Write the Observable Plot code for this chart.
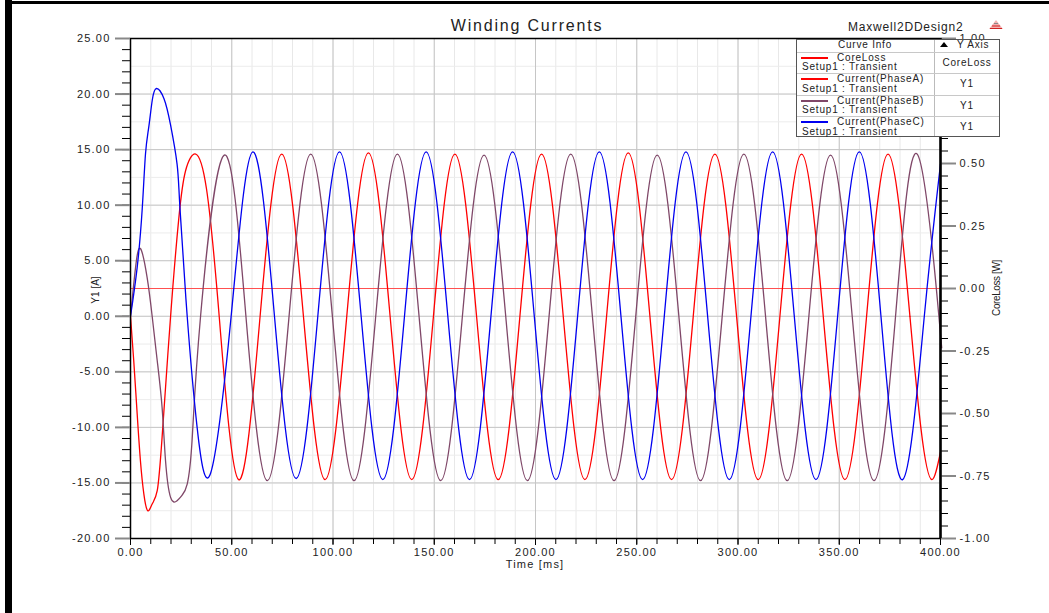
<!DOCTYPE html>
<html><head><meta charset="utf-8">
<script src="https://cdn.jsdelivr.net/npm/d3@7"></script>
<script src="https://cdn.jsdelivr.net/npm/@observablehq/plot@0.6"></script>
<style>
html,body{margin:0;padding:0;background:#fff;}
#wrap{position:relative;width:1049px;height:613px;overflow:hidden;font-family:"Liberation Sans",Arial,sans-serif;color:#222;}
#wrap svg{position:absolute;left:0;top:0;}
.t{position:absolute;white-space:nowrap;line-height:10px;height:10px;}
</style></head><body><div id="wrap"></div>
<script>
// ---- data ----
const timeA  = [0,1.6,3.3,4.9,6.6,8.5,10.7,13.2,15.6,19.8,23.9,27.2,32.2,37.5,43.8,53.4,64.0,74.7,85.4,96.1,106.8,117.5,128.2,138.9,149.6,160.2,170.9,181.6,192.3,203.0,213.7,224.4,235.1,245.8,256.5,267.2,277.9,288.6,299.3,310.0,320.7,331.4,342.1,352.8,363.5,374.1,384.9,395.8,400];
const phaseA = [0,-4.0,-8.8,-13.0,-16.0,-17.5,-16.9,-15.7,-10.9,0,8.9,13.1,14.6,11.5,0,-14.7,0,14.6,0,-14.7,0,14.7,0,-14.7,0,14.6,0,-14.7,0,14.6,0,-14.7,0,14.7,0,-14.7,0,14.6,0,-14.7,0,14.6,0,-14.7,0,14.6,0,-14.7,-12.2];
const timeB  = [0,2.5,4.9,8.2,10.7,13.2,15.6,17.3,19.8,23.0,25.5,28.0,30.4,34.6,46.3,57.0,67.6,78.3,89.0,99.7,110.4,121.1,131.8,142.5,153.2,163.9,174.6,185.3,196.0,206.7,217.4,228.1,238.8,249.5,260.1,270.8,281.5,292.2,302.9,313.6,324.3,335.0,345.7,356.4,367.1,377.8,388.5,399.2,400];
const phaseB = [0,4.4,6.1,3.5,0,-4.0,-8.2,-13.0,-16.3,-16.6,-16.1,-15.1,-11.2,0,14.5,0,-14.8,0,14.6,0,-14.8,0,14.6,0,-14.8,0,14.5,0,-14.8,0,14.6,0,-14.8,0,14.5,0,-14.8,0,14.6,0,-14.8,0,14.5,0,-14.8,0,14.6,0,-1.6];
const timeC  = [0,3.3,5.8,7.4,9.0,10.7,12.8,16.5,19.8,23.0,24.4,28.0,32.9,39.6,49.7,60.4,71.1,81.8,92.5,103.2,113.9,124.6,135.3,146.0,156.7,167.4,178.0,188.7,199.4,210.1,220.8,231.5,242.2,252.9,263.6,274.3,285.0,295.7,306.4,317.1,327.8,338.5,349.2,359.9,370.6,381.3,392.0,400];
const phaseC = [0,4.4,9.7,14.6,17.0,19.4,20.5,19.6,17.2,13.7,9.8,0,-10.0,-14.1,0,14.8,0,-14.6,0,14.8,0,-14.7,0,14.8,0,-14.7,0,14.8,0,-14.7,0,14.8,0,-14.7,0,14.8,0,-14.7,0,14.8,0,-14.7,0,14.8,0,-14.7,0,13.7];
const coreLossTime = [0,400];
const coreLoss     = [0,0];
const xTicks     = [0,50,100,150,200,250,300,350,400];
const yTicks     = [-20,-15,-10,-5,0,5,10,15,20,25];
const rightTicks = [-1,-0.75,-0.5,-0.25,0,0.25,0.5,0.75,1];
const rightTickLabels = ["-1.00","-0.75","-0.50","-0.25","0.00","0.25","0.50","","1.00"]; // 0.75 is hidden under the legend
const curveNames = ["CoreLoss","Current(PhaseA)","Current(PhaseB)","Current(PhaseC)"];
const curveAxes  = ["CoreLoss","Y1","Y1","Y1"];

// ---- styles ----
const colors = {A:"#ff0000", B:"#7f4768", C:"#0000f0", core:"#ff5050"};
const legendColors = [colors.A, colors.A, colors.B, colors.C];

const Y_MIN = -20, Y_MAX = 25;
const toLeft  = r => Y_MIN + (r + 1) / 2 * (Y_MAX - Y_MIN);
const fmt = v => { const r = Math.round(v * 100) / 100; return (Math.abs(r) < 1e-9 ? 0 : r).toFixed(2); };
const zip = (t, v) => t.map((d, i) => ({t: d, v: v[i]}));

const minorX = d3.range(0, 400.01, 10);
const minorY = d3.range(-20, 25.01, 1);
const minorR = d3.range(-1, 1.0001, 0.05).map(toLeft);
const blank = () => "";

// a series is drawn with a natural spline up to its last zero crossing,
// and a monotone piece for the short tail after it (avoids end overshoot)
function seriesMarks(t, v, stroke) {
  const pts = zip(t, v);
  let last = -1;
  v.forEach((d, i) => { if (d === 0) last = i; });
  const opts = {x: "t", y: "v", stroke, strokeWidth: 1.3};
  if (last > 0 && pts.length - 1 - last >= 2) {
    return [
      Plot.line(pts.slice(0, last + 1), {...opts, curve: "natural"}),
      Plot.line(pts.slice(last), {...opts, curve: "monotone-x"})
    ];
  }
  return [Plot.line(pts, {...opts, curve: "natural"})];
}

const rightLabelOf = new Map(rightTicks.map((r, i) => [toLeft(r), rightTickLabels[i]]));

const chart = Plot.plot({
  width: 1049, height: 613,
  marginLeft: 130, marginRight: 109, marginTop: 38, marginBottom: 75,
  x: {domain: [0, 400], label: null},
  y: {domain: [Y_MIN, Y_MAX], label: null},
  style: {fontFamily: '"Liberation Sans", Arial, sans-serif', fontSize: "11px", color: "#222", background: "transparent", letterSpacing: "1.2px", overflow: "visible"},
  marks: [
    Plot.gridX(minorX, {stroke: "#e8e8e8", strokeOpacity: 1}),
    Plot.gridY(d3.range(-20, 25.01, 2.5), {stroke: "#ececec", strokeOpacity: 1}),
    Plot.gridX(xTicks, {stroke: "#c6c6c6", strokeOpacity: 1}),
    Plot.gridY(yTicks, {stroke: "#c6c6c6", strokeOpacity: 1}),
    Plot.line(zip(coreLossTime, coreLoss), {x: "t", y: d => toLeft(d.v), stroke: colors.core, strokeWidth: 1}),
    ...seriesMarks(timeA, phaseA, colors.A),
    ...seriesMarks(timeB, phaseB, colors.B),
    ...seriesMarks(timeC, phaseC, colors.C),
    Plot.frame({stroke: "#000", strokeWidth: 1.5}),
    Plot.axisX(minorX, {tickSize: 6, tickFormat: blank, label: null, stroke: "#000"}),
    Plot.axisX(xTicks, {tickSize: 7, tickPadding: 3, tickFormat: fmt, label: null, stroke: "#000"}),
    Plot.axisY(minorY, {tickSize: 8, tickFormat: blank, label: null, stroke: "#000"}),
    Plot.axisY(yTicks, {tickSize: 15, tickPadding: 5, tickFormat: fmt, label: null, stroke: "#888", strokeWidth: 2}),
    Plot.axisY(minorR, {anchor: "right", tickSize: 7, tickFormat: blank, label: null, stroke: "#000"}),
    Plot.axisY(rightTicks.map(toLeft), {anchor: "right", tickSize: 15, tickPadding: 4, tickFormat: v => rightLabelOf.get(v) ?? "", label: null, stroke: "#888", strokeWidth: 2}),
    Plot.ruleX([400], {stroke: "#000", strokeWidth: 2.5})
  ]
});

const wrap = document.getElementById("wrap");
wrap.appendChild(chart);

function txt(s, x, y, o = {}) {
  const e = document.createElement("div");
  e.className = "t";
  e.textContent = s;
  e.style.left = x + "px";
  e.style.top = (y - 5) + "px";
  e.style.fontSize = (o.size || 11) + "px";
  e.style.letterSpacing = (o.ls ?? 1.2) + "px";
  if (o.anchor === "middle") e.style.transform = "translateX(-50%)";
  if (o.rot) { e.style.transform = "translate(-50%,0) rotate(-90deg)"; }
  if (o.color) e.style.color = o.color;
  wrap.appendChild(e);
  return e;
}
function box(x, y, w, h, css) {
  const e = document.createElement("div");
  e.style.position = "absolute";
  e.style.left = x + "px"; e.style.top = y + "px";
  e.style.width = w + "px"; e.style.height = h + "px";
  Object.assign(e.style, css);
  wrap.appendChild(e);
  return e;
}

// page frame
box(5, 0, 7, 613, {background: "#000"});
box(5, 1, 1044, 3, {background: "#000"});

// titles
txt("Winding Currents", 527, 26, {size: 16, ls: 1.8, anchor: "middle"});
txt("Maxwell2DDesign2", 848, 27, {size: 12, ls: 0.8});
const icon = document.createElementNS("http://www.w3.org/2000/svg", "svg");
icon.setAttribute("width", "14"); icon.setAttribute("height", "10");
icon.style.position = "absolute"; icon.style.left = "989px"; icon.style.top = "20px";
icon.innerHTML = '<polygon points="7,0 14,9 0,9" fill="#f3b0b0"/><line x1="3" y1="6" x2="11" y2="6" stroke="#d02020"/><line x1="5" y1="3.5" x2="9" y2="3.5" stroke="#888"/><line x1="1" y1="8.5" x2="13" y2="8.5" stroke="#d02020"/>';
wrap.appendChild(icon);

// axis labels
txt("Time [ms]", 535, 563.5, {anchor: "middle"});
txt("Y1 [A]", 96, 290, {size: 10, ls: 0, rot: true});
txt("CoreLoss [W]", 997, 288, {size: 10, ls: -0.4, rot: true});

// legend
box(796, 39, 202, 96, {background: "#fff", border: "1.5px solid #555"});
box(934, 40, 1, 96, {background: "#bbb"});
[52, 73, 95, 116].forEach(y => box(797, y, 202, 1, {background: "#c8c8c8"}));
txt("Curve Info", 865, 45, {size: 10, ls: 0.8, anchor: "middle"});
const tri = document.createElementNS("http://www.w3.org/2000/svg", "svg");
tri.setAttribute("width", "8"); tri.setAttribute("height", "6");
tri.style.position = "absolute"; tri.style.left = "940px"; tri.style.top = "42px";
tri.innerHTML = '<polygon points="4,0 8,5 0,5" fill="#000"/>';
wrap.appendChild(tri);
txt("Y Axis", 957, 45, {size: 10, ls: 0.8});
curveNames.forEach((name, i) => {
  const top = 52 + i * 21.5;
  box(801, Math.round(top + 4.5), 27, 2, {background: legendColors[i]});
  txt(name, 837, top + 5.5, {size: 10, ls: 0.8});
  txt("Setup1 : Transient", 802, top + 15, {size: 10, ls: 0.8});
  txt(curveAxes[i], 967, top + 10.5, {size: 10, ls: 0.8, anchor: "middle"});
});
</script>
</body></html>
